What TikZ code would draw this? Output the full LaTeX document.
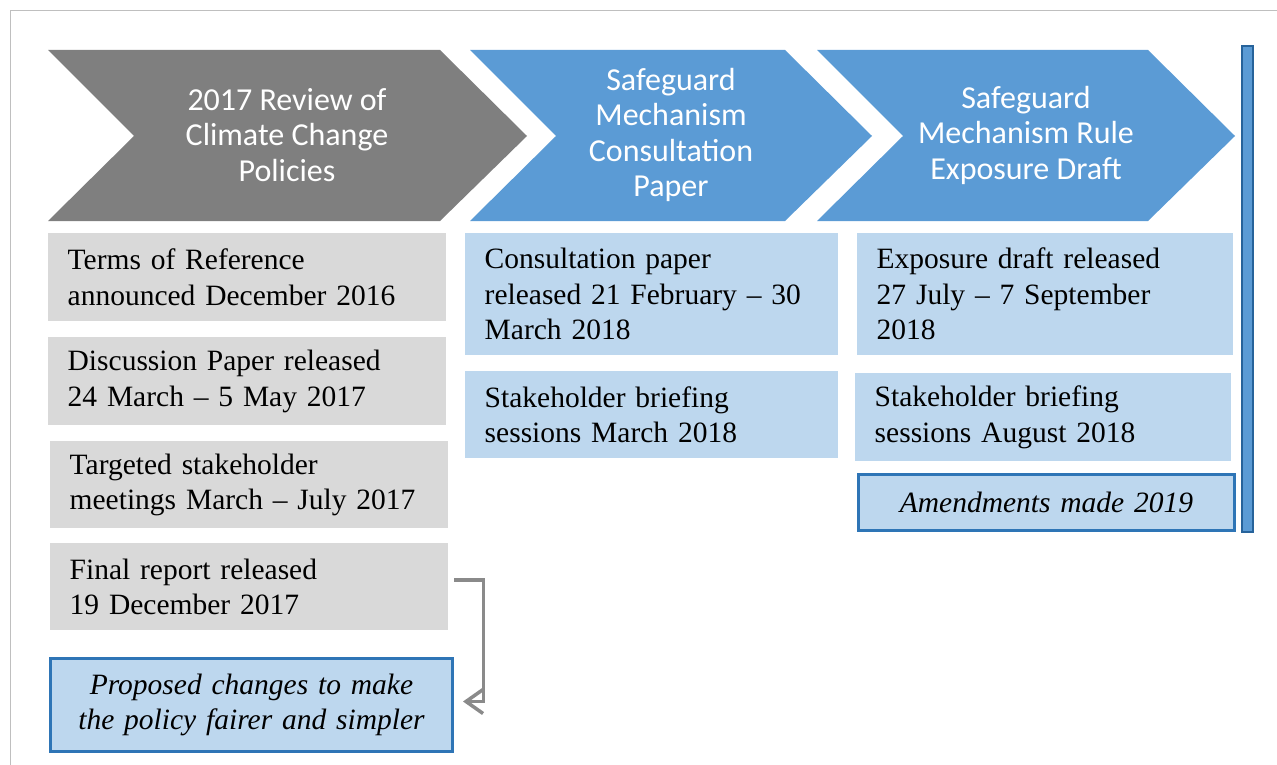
\documentclass[tikz,border=0pt]{standalone}
\usepackage{fontspec}
\setmainfont{Liberation Serif}
\newfontfamily\headfont{Carlito}
\usetikzlibrary{arrows.meta}
\definecolor{chevgrey}{RGB}{127,127,127}
\definecolor{chevblue}{RGB}{91,155,213}
\definecolor{boxgrey}{RGB}{217,217,217}
\definecolor{boxblue}{RGB}{189,215,238}
\definecolor{edgeblue}{RGB}{46,117,182}
\definecolor{framegrey}{RGB}{191,191,191}

\tikzset{
  box/.style={anchor=north west, inner xsep=19.5pt, inner ysep=0pt, align=left,
    text=black, font=\fontsize{29.5}{35.5}\selectfont},
  greybox/.style={box, fill=boxgrey},
  bluebox/.style={box, fill=boxblue},
  notebox/.style={box, fill=boxblue, draw=edgeblue, line width=3pt, align=center,
    font=\fontsize{29.5}{35.5}\selectfont\itshape},
  chevtext/.style={align=center, text=white, font=\headfont\fontsize{32}{35.5}\selectfont},
  flow/.style={draw=black!46, line width=3.5pt, -{Straight Barb[length=17pt,width=24pt]}}
}

\begin{document}
\begin{tikzpicture}[x=1pt, y=-1pt]
    \useasboundingbox (0,0) rectangle (1277,765);
    % page frame
    \draw[framegrey, line width=1.2pt] (1277,10.5) -- (10.5,10.5) -- (10.5,765);

    % the three stage chevrons
    \foreach \xa/\xb/\col in {48/440/chevgrey, 470/785/chevblue, 817/1148/chevblue} {
        \fill[\col] (\xa,50) -- (\xb,50) -- (\xb+87,136) -- (\xb,221) -- (\xa,221) -- (\xa+86,136) -- cycle;
    }
    \node[chevtext] (review) at (287,135) {2017 Review of\\Climate Change\\Policies};
    \node[chevtext] (paper) at (671,135) {Safeguard\\Mechanism\\Consultation\\Paper};
    \node[chevtext] (draft) at (1026,135) {Safeguard\\Mechanism Rule\\Exposure Draft};

    % review stage
    \node[greybox, text width=359pt, minimum height=88pt] (terms) at (48,233) {Terms of Reference\\announced December 2016};
    \node[greybox, text width=359pt, minimum height=88pt] (discussion) at (48,337) {Discussion Paper released\\24 March -- 5 May 2017};
    \node[greybox, text width=359pt, minimum height=87pt] (meetings) at (50,441) {Targeted stakeholder\\meetings March -- July 2017};
    \node[greybox, text width=359pt, minimum height=87pt] (final) at (50,543) {Final report released\\19 December 2017};
    \node[notebox, text width=363pt, minimum height=93pt] (proposed) at (49,657) {Proposed changes to make\\the policy fairer and simpler};

    % consultation paper stage
    \node[bluebox, text width=334pt, minimum height=122pt] (consult) at (465,233) {Consultation paper\\released 21 February -- 30\\March 2018};
    \node[bluebox, text width=334pt, minimum height=87pt] (briefmar) at (465,371) {Stakeholder briefing\\sessions March 2018};

    % exposure draft stage
    \node[bluebox, text width=337pt, minimum height=122pt] (exposure) at (857,233) {Exposure draft released\\27 July -- 7 September\\2018};
    \node[bluebox, text width=337pt, minimum height=88pt] (briefaug) at (855,373) {Stakeholder briefing\\sessions August 2018};
    \node[notebox, text width=337pt, minimum height=56pt] (amend) at (857,473) {Amendments made 2019};

    % side bar
    \draw[draw=edgeblue!85!black, fill=chevblue, line width=1.5pt] (1242,46) rectangle (1253,532);

    \draw[flow] ([xshift=6pt,yshift=6.5pt]final.east) -- ++(29,0) |- ([xshift=9pt,yshift=3.5pt]proposed.east);
\end{tikzpicture}
\end{document}
